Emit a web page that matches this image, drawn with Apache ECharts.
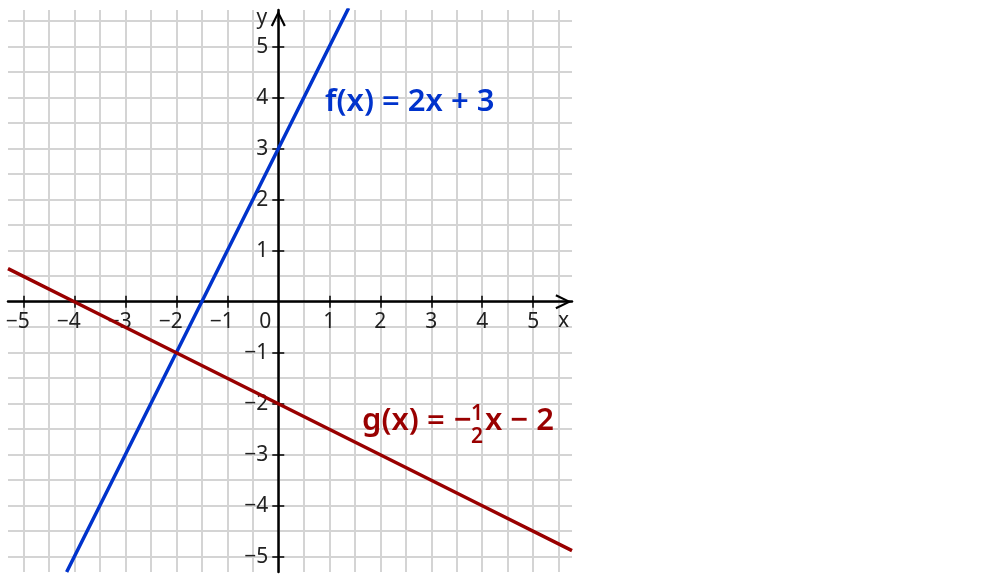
<!DOCTYPE html>
<html><head><meta charset="utf-8">
<script src="https://cdn.jsdelivr.net/npm/echarts@6/dist/echarts.min.js"></script>
<style>html,body{margin:0;padding:0;background:#fff}#c{width:1000px;height:580px}</style>
</head><body><div id="c"></div>
<script>
// ---- data ----
const xRange = [-5.3, 5.76];
const yRange = [-5.3, 5.72];
const tickValues = [-5, -4, -3, -2, -1, 1, 2, 3, 4, 5];
const xLabelValues = [-5, -4, -3, -2, -1, 0, 1, 2, 3, 4, 5];
const yLabelValues = [-5, -4, -3, -2, -1, 1, 2, 3, 4, 5];
const gridValues = [-5, -4.5, -4, -3.5, -3, -2.5, -2, -1.5, -1, -0.5, 0, 0.5, 1, 1.5, 2, 2.5, 3, 3.5, 4, 4.5, 5, 5.5];
const fPoints = [[-4.15, -5.3], [-2, -1], [0, 3], [1.38, 5.76]];
const gPoints = [[-5.3, 0.65], [-4, 0], [-2, -1], [0, -2], [2, -3], [4, -4], [5.76, -4.88]];
const fLabel = 'f(x) = 2x + 3';
const gLabelParts = ['g(x) =', '−', '1', '2', 'x − 2'];
const axisNames = ['x', 'y'];

// ---- layout / style ----
const GRID = { left: 8, top: 10, width: 564, height: 562 };
const FONT = '"Noto Sans", "Open Sans", sans-serif';
const BLUE = '#0033cc';
const RED = '#990000';
const GRIDC = '#d4d4d4';
const chevron = 'path://M7.5,0 L15,15.2 L13,16.2 L7.5,4.6 L2,16.2 L0,15.2 Z';

// distance (px) of the zero line from each grid edge, derived from the axis ranges
const zeroFromBottom = (0 - yRange[0]) / (yRange[1] - yRange[0]) * GRID.height;
const zeroFromTop = GRID.height - zeroFromBottom;
const zeroFromLeft = (0 - xRange[0]) / (xRange[1] - xRange[0]) * GRID.width;
const zeroFromRight = GRID.width - zeroFromLeft;

function fmtX(v) {
  if (v < 0) return '{n|−' + (-v) + '}';
  if (v === 0) return '{z|0}';
  return '{p|' + v + '}';
}
const labelRich = {
  n: { fontSize: 21, fontFamily: FONT, color: '#222', padding: [0, 11, 0, 0] },
  z: { fontSize: 21, fontFamily: FONT, color: '#222', padding: [0, 26, 0, 0] },
  p: { fontSize: 21, fontFamily: FONT, color: '#222' }
};

function mainAxis(dir, range, labelVals, nameTxt) {
  const isX = dir === 'x';
  return {
    type: 'value', min: range[0], max: range[1],
    position: isX ? 'bottom' : 'left',
    offset: isX ? -zeroFromBottom : -zeroFromLeft,
    name: nameTxt,
    nameLocation: 'end',
    nameGap: isX ? -14 : 2,
    nameTextStyle: isX
      ? { fontSize: 21, fontFamily: FONT, color: '#222', align: 'left', verticalAlign: 'top', padding: [9, 0, 0, 0] }
      : { fontSize: 21, fontFamily: FONT, color: '#222', align: 'right', verticalAlign: 'top', padding: [0, 11, 0, 0] },
    axisLine: { show: true, onZero: false,
      lineStyle: { color: '#000', width: 2.5 },
      symbol: ['none', chevron], symbolSize: [15, 17], symbolOffset: [0, -8.5] },
    axisTick: { show: true, customValues: tickValues, length: 6, lineStyle: { color: '#000', width: 1.5 } },
    axisLabel: isX
      ? { customValues: labelVals, margin: 10, formatter: fmtX, rich: labelRich, fontSize: 21, fontFamily: FONT, color: '#222' }
      : { customValues: labelVals, margin: 10, formatter: v => (v < 0 ? '−' + (-v) : '' + v), fontSize: 21, fontFamily: FONT, color: '#222', padding: [3, 0, 0, 0] },
    splitLine: { show: false }
  };
}
function tickAxis(dir, range) {
  const isX = dir === 'x';
  return {
    type: 'value', min: range[0], max: range[1],
    position: isX ? 'top' : 'right',
    offset: isX ? -zeroFromTop : -zeroFromRight,
    axisLine: { show: false, onZero: false },
    axisTick: { show: true, customValues: tickValues, length: 6, lineStyle: { color: '#000', width: 1.5 } },
    axisLabel: { show: false },
    splitLine: { show: false }
  };
}
function gridAxis(dir, range) {
  return {
    type: 'value', min: range[0], max: range[1], z: -1,
    axisLine: { show: false, onZero: false },
    axisTick: { show: false, customValues: gridValues },
    axisLabel: { show: false },
    splitLine: { show: true, lineStyle: { color: GRIDC, width: 2 } }
  };
}

const T = (txt, x, y, size, color, align) => ({
  type: 'text', x: x, y: y, z: 10,
  style: { text: txt, fontSize: size, fontWeight: 600, fontFamily: FONT, fill: color, align: align || 'left', verticalAlign: 'middle' }
});

const chart = echarts.init(document.getElementById('c'), null, { renderer: 'canvas' });
chart.setOption({
  animation: false,
  backgroundColor: '#fff',
  grid: Object.assign({ containLabel: false, outerBoundsMode: 'none' }, GRID),
  xAxis: [mainAxis('x', xRange, xLabelValues, axisNames[0]), tickAxis('x', xRange), gridAxis('x', xRange)],
  yAxis: [mainAxis('y', yRange, yLabelValues, axisNames[1]), tickAxis('y', yRange), gridAxis('y', yRange)],
  series: [
    { type: 'line', data: fPoints, showSymbol: false, symbol: 'none', lineStyle: { color: BLUE, width: 3.5 }, z: 5, silent: true },
    { type: 'line', data: gPoints, showSymbol: false, symbol: 'none', lineStyle: { color: RED, width: 3.5 }, z: 5, silent: true }
  ],
  graphic: [
    T(fLabel, 325, 102, 31, BLUE),
    T(gLabelParts[0], 362, 421, 31, RED),
    T(gLabelParts[1], 454, 421, 31, RED),
    T(gLabelParts[2], 477, 414, 21, RED, 'center'),
    T(gLabelParts[3], 477, 437, 21, RED, 'center'),
    T(gLabelParts[4], 485, 421, 31, RED)
  ]
});
</script></body></html>
